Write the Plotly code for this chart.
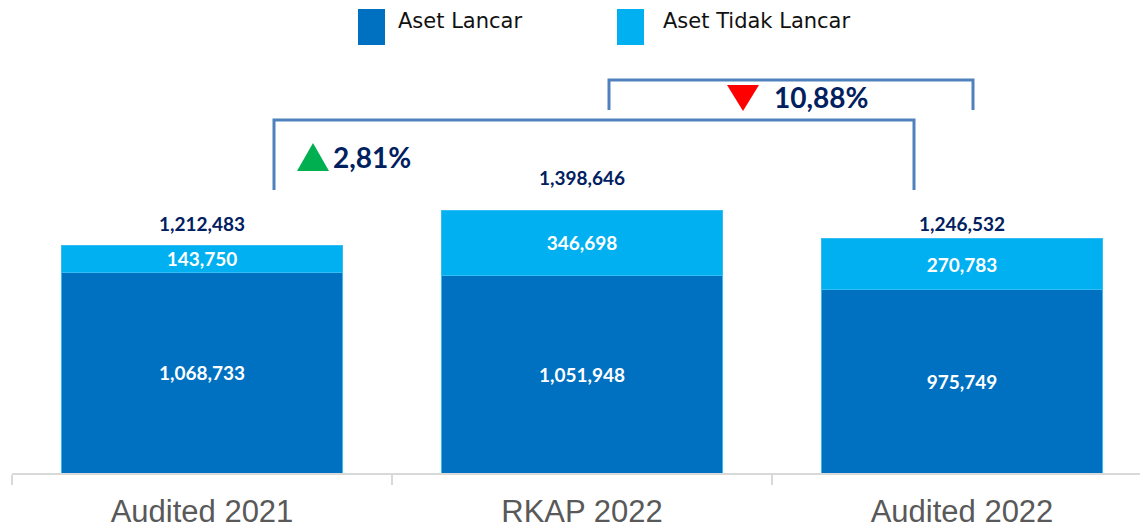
import plotly.graph_objects as go

categories = ["Audited 2021", "RKAP 2022", "Audited 2022"]
aset_lancar = [1068733, 1051948, 975749]
aset_tidak_lancar = [143750, 346698, 270783]
totals = [1212483, 1398646, 1246532]
growth_labels = ["2,81%", "10,88%"]

DARK = "#0070C0"
LIGHT = "#00B0F0"
NAVY = "#002060"
NUM_FONT = "Lato, 'Open Sans', sans-serif"

fig = go.Figure()
fig.add_trace(go.Bar(
    x=categories, y=aset_lancar, name="Aset Lancar",
    marker=dict(color=DARK, line=dict(color="#33BDF2", width=1)),
    text=[f"{v:,}" for v in aset_lancar], textposition="inside",
    insidetextanchor="middle",
    textfont=dict(family=NUM_FONT, size=19, color="white", weight="bold"),
    showlegend=False,
))
fig.add_trace(go.Bar(
    x=categories, y=aset_tidak_lancar, name="Aset Tidak Lancar",
    marker=dict(color=LIGHT, line=dict(color="#33BDF2", width=1)),
    text=[f"{v:,}" for v in aset_tidak_lancar], textposition="inside",
    insidetextanchor="middle",
    textfont=dict(family=NUM_FONT, size=19, color="white", weight="bold"),
    showlegend=False,
))

label_shift = [22, 33, 15]
annotations = []
for c, t, s in zip(categories, totals, label_shift):
    annotations.append(dict(
        x=c, y=t, text=f"<b>{t:,}</b>", showarrow=False, yanchor="middle",
        yshift=s, font=dict(family=NUM_FONT, size=19, color=NAVY)))

def px_x(px):
    return (px - 12) / 1128

def px_y(py):
    return (473 - py) / 473

shapes = []
# brackets
br = "#4F81BD"
for (xl, xr, yt, yb) in [(274, 914, 120, 190), (609, 973, 80, 110)]:
    path = (f"M {px_x(xl)},{px_y(yb)} L {px_x(xl)},{px_y(yt)} "
            f"L {px_x(xr)},{px_y(yt)} L {px_x(xr)},{px_y(yb)}")
    shapes.append(dict(type="path", xref="paper", yref="paper", path=path,
                       line=dict(color=br, width=3), fillcolor="rgba(0,0,0,0)"))
# triangles
shapes.append(dict(type="path", xref="paper", yref="paper",
                   path=f"M {px_x(297)},{px_y(171)} L {px_x(329)},{px_y(171)} L {px_x(313)},{px_y(143)} Z",
                   fillcolor="#00B050", line=dict(width=0)))
shapes.append(dict(type="path", xref="paper", yref="paper",
                   path=f"M {px_x(727)},{px_y(85)} L {px_x(759)},{px_y(85)} L {px_x(743)},{px_y(111)} Z",
                   fillcolor="#FF0000", line=dict(width=0)))
annotations.append(dict(xref="paper", yref="paper", x=px_x(331), y=px_y(157),
                        xanchor="left", yanchor="middle", showarrow=False,
                        text=f"<b>{growth_labels[0]}</b>",
                        font=dict(family=NUM_FONT, size=28, color=NAVY)))
annotations.append(dict(xref="paper", yref="paper", x=px_x(772), y=px_y(97),
                        xanchor="left", yanchor="middle", showarrow=False,
                        text=f"<b>{growth_labels[1]}</b>",
                        font=dict(family=NUM_FONT, size=28, color=NAVY)))

# legend (manual)
for (x0, x1, col, tx, name) in [(358, 385, DARK, 396, "Aset Lancar"),
                                (617, 644, LIGHT, 661, "Aset Tidak Lancar")]:
    shapes.append(dict(type="rect", xref="paper", yref="paper",
                       x0=px_x(x0), x1=px_x(x1), y0=px_y(45), y1=px_y(9),
                       fillcolor=col, line=dict(width=0)))
    annotations.append(dict(xref="paper", yref="paper", x=px_x(tx), y=px_y(20.5),
                            xanchor="left", yanchor="middle", showarrow=False,
                            text=name,
                            font=dict(family="DejaVu Sans, Verdana, sans-serif",
                                      size=21, color="#111111")))

fig.update_layout(
    barmode="stack",
    bargap=0.263,
    width=1140, height=529,
    margin=dict(l=12, r=0, t=0, b=56),
    plot_bgcolor="white", paper_bgcolor="white",
    showlegend=False,
    shapes=shapes,
    annotations=annotations,
    uniformtext=dict(minsize=19, mode="show"),
    xaxis=dict(
        type="category",
        range=[-0.5, -0.5 + 1128 / 380],
        showline=True, linecolor="#D9D9D9", linewidth=2,
        ticks="outside", tickson="boundaries", ticklen=10,
        tickcolor="#D9D9D9", tickwidth=2,
        ticklabelstandoff=10,
        tickfont=dict(family="'Liberation Sans', Arial, sans-serif",
                      size=31, color="#595959"),
        showgrid=False,
    ),
    yaxis=dict(range=[0, 473 * 5318], visible=False, showgrid=False),
)

fig.write_html("out.html", config={"displayModeBar": False},
               post_script="document.body.style.margin='0';document.body.style.padding='0';")
